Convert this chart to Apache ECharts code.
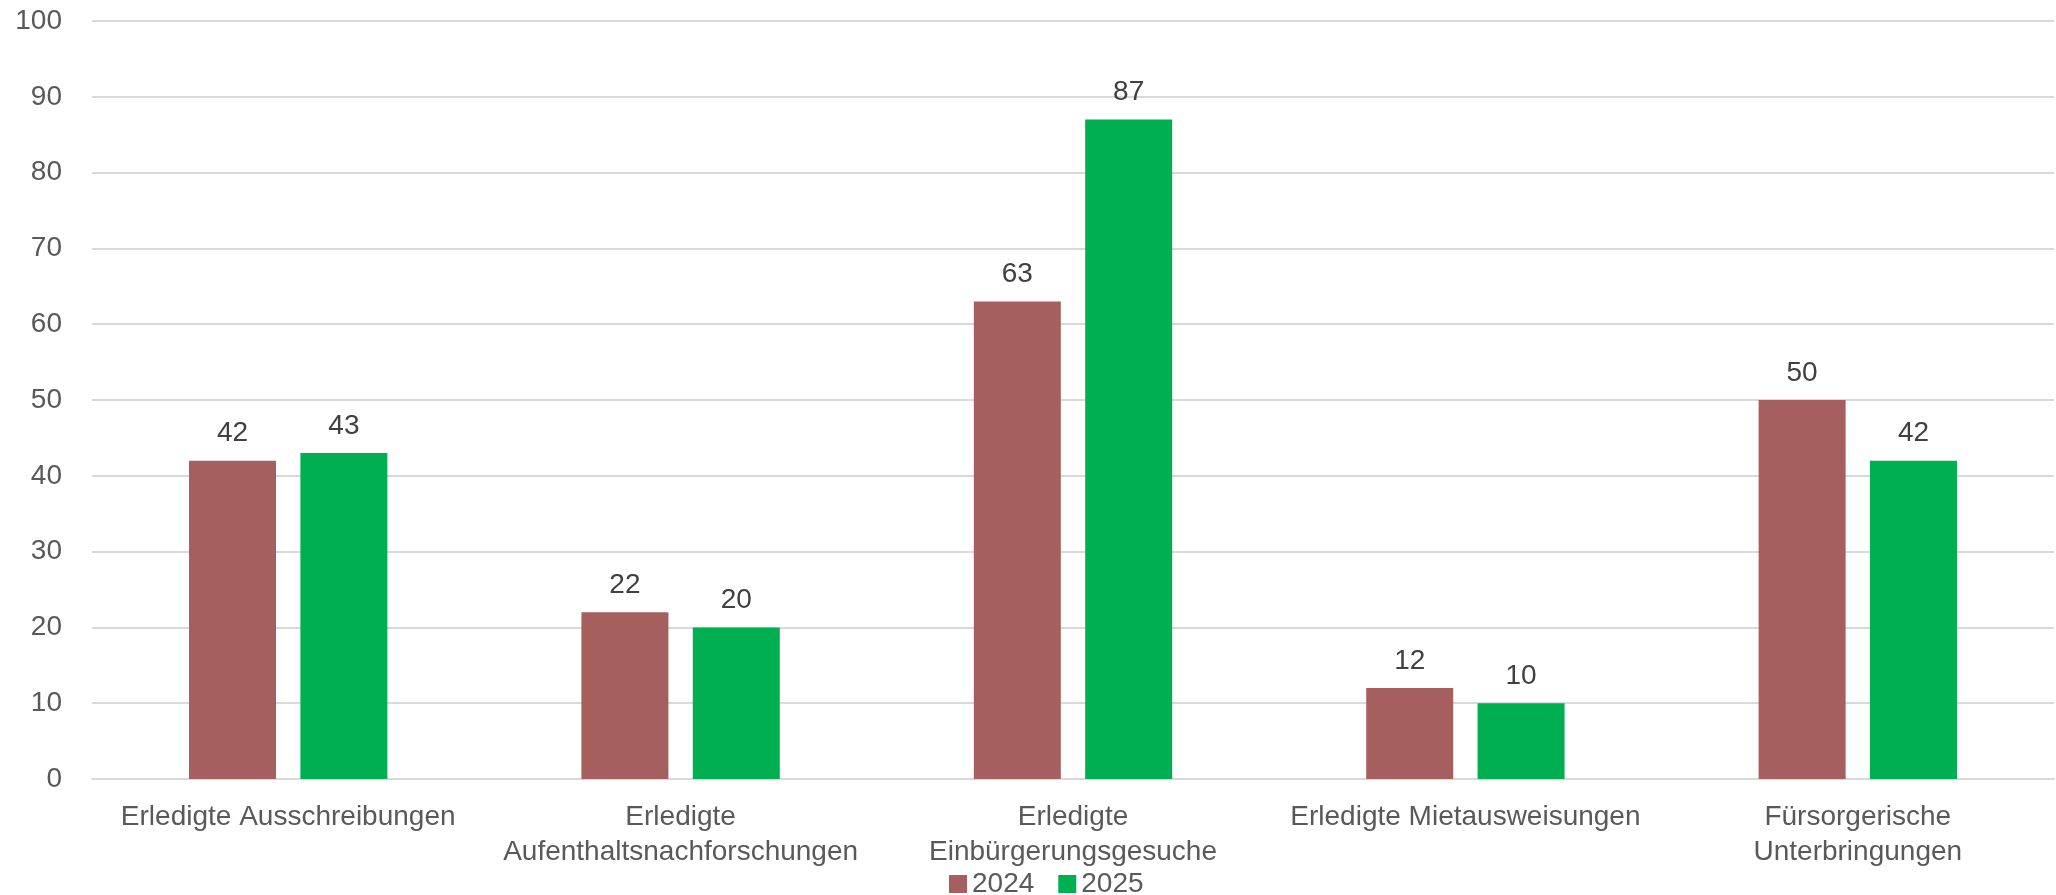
<!DOCTYPE html>
<html>
<head>
<meta charset="utf-8">
<script src="https://cdn.jsdelivr.net/npm/echarts@6/dist/echarts.min.js"></script>
<style>
  html, body { margin: 0; padding: 0; background: #ffffff; }
  #chart { width: 2056px; height: 895px; }
</style>
</head>
<body>
<div id="chart"></div>
<script>
// Categories (line breaks as they wrap under the axis)
const categories = [
  'Erledigte Ausschreibungen',
  'Erledigte\nAufenthaltsnachforschungen',
  'Erledigte\nEinbürgerungsgesuche',
  'Erledigte Mietausweisungen',
  'Fürsorgerische\nUnterbringungen'
];
const seriesNames = ['2024', '2025'];
const values2024 = [42, 22, 63, 12, 50];
const values2025 = [43, 20, 87, 10, 42];
const yMin = 0, yMax = 100, yStep = 10;

const FONT = '"Liberation Sans", "DejaVu Sans", sans-serif';
const colors = ['#A45F5E', '#00B050'];

const chart = echarts.init(document.getElementById('chart'), null, { renderer: 'canvas' });

const labelStyle = {
  show: true,
  position: 'top',
  distance: 13,
  color: '#404040',
  fontFamily: FONT,
  fontSize: 28
};

chart.setOption({
  animation: false,
  backgroundColor: '#ffffff',
  color: colors,
  grid: { left: 92, right: 2, top: 21, bottom: 116, containLabel: false },
  legend: {
    data: seriesNames,
    left: 944,
    top: 865,
    itemWidth: 18,
    itemHeight: 18,
    itemGap: 24,
    icon: 'rect',
    textStyle: { color: '#595959', fontFamily: FONT, fontSize: 28 }
  },
  xAxis: {
    type: 'category',
    data: categories,
    axisLine: { show: true, lineStyle: { color: '#D9D9D9', width: 2 } },
    axisTick: { show: false },
    axisLabel: {
      color: '#595959',
      fontFamily: FONT,
      fontSize: 28,
      lineHeight: 35,
      margin: 21,
      interval: 0,
      align: 'center'
    }
  },
  yAxis: {
    type: 'value',
    min: yMin,
    max: yMax,
    interval: yStep,
    axisLine: { show: false },
    axisTick: { show: false },
    splitLine: { lineStyle: { color: '#D9D9D9', width: 2 } },
    axisLabel: {
      color: '#595959',
      fontFamily: FONT,
      fontSize: 28,
      margin: 30
    }
  },
  series: [
    {
      name: seriesNames[0],
      type: 'bar',
      data: values2024,
      barWidth: 87,
      barGap: '28%',
      itemStyle: { color: colors[0] },
      label: labelStyle
    },
    {
      name: seriesNames[1],
      type: 'bar',
      data: values2025,
      barWidth: 87,
      barGap: '28%',
      itemStyle: { color: colors[1] },
      label: labelStyle
    }
  ]
});
</script>
</body>
</html>
